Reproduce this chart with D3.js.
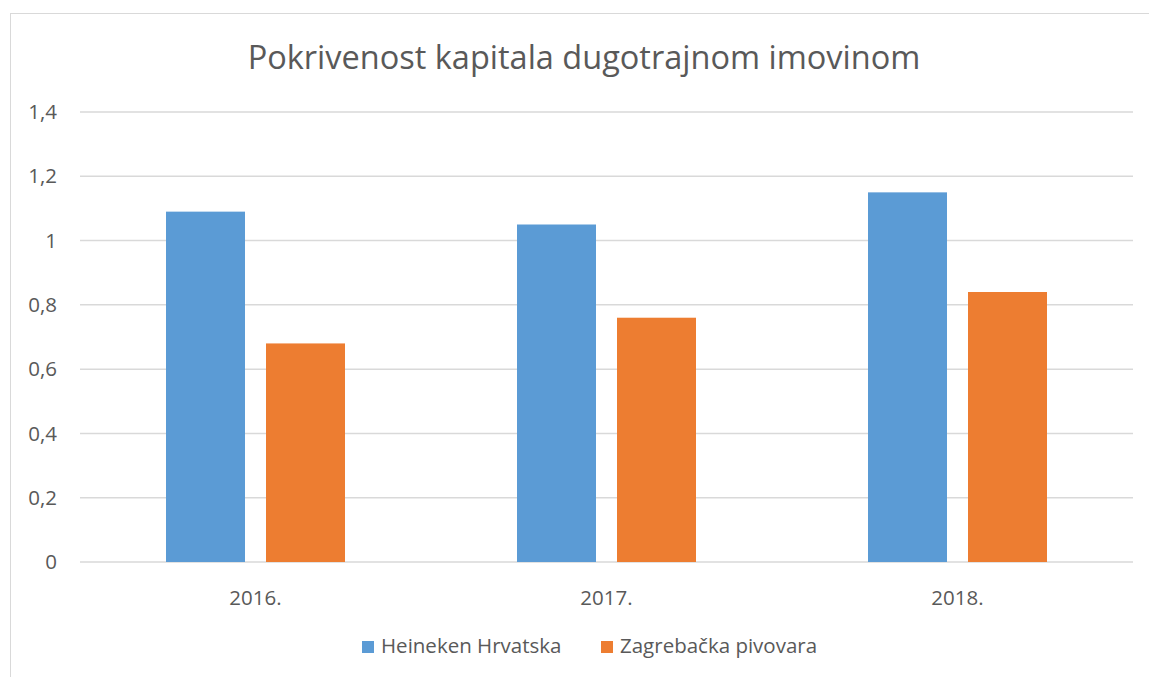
<!DOCTYPE html>
<html><head><meta charset="utf-8">
<script src="https://cdn.jsdelivr.net/npm/d3@7"></script>
<style>body{margin:0;background:#fff}svg{display:block}</style>
</head><body>
<svg id="c" width="1149" height="677"></svg>
<script>
const categories = ["2016.", "2017.", "2018."];
const seriesNames = ["Heineken Hrvatska", "Zagrebačka pivovara"];
const heineken = [1.09, 1.05, 1.15];
const zagrebacka = [0.68, 0.76, 0.84];
const yTicks = [0, 0.2, 0.4, 0.6, 0.8, 1, 1.2, 1.4];
const colors = ["#5b9bd5", "#ed7d31"];
const title = "Pokrivenost kapitala dugotrajnom imovinom";

(function () {
const svg = d3.select("#c");
const font = "'Open Sans', Lato, sans-serif";
const txt = "#595959";
const fs = 20.5;

svg.append("rect").attr("x", 10.5).attr("y", 13.5).attr("width", 1160).attr("height", 700)
  .attr("fill", "none").attr("stroke", "#d9d9d9").attr("stroke-width", 1);

const pl = 80, pr = 1133, pt = 112, pb = 562;
const x = d3.scaleBand().domain(categories).range([pl, pr]).padding(0);
const y = d3.scaleLinear().domain([0, 1.4]).range([pb, pt]);

svg.append("g").selectAll("line").data(yTicks).join("line")
  .attr("x1", pl).attr("x2", pr)
  .attr("y1", d => y(d)).attr("y2", d => y(d))
  .attr("stroke", "#d9d9d9").attr("stroke-width", 1.5);

const fmt = d => String(d).replace(".", ",");
svg.append("g").selectAll("text").data(yTicks).join("text")
  .attr("x", 57).attr("y", d => y(d)).attr("dy", "0.35em")
  .attr("text-anchor", "end").attr("font-family", font).attr("font-size", fs)
  .attr("fill", txt).text(fmt);

const bw = x.bandwidth() * 79 / 351;
const gap = x.bandwidth() * 21 / 351;
const data = [heineken, zagrebacka];
data.forEach((vals, si) => {
  svg.append("g").selectAll("rect").data(vals).join("rect")
    .attr("x", (d, i) => x(categories[i]) + x.bandwidth() / 2 - bw - gap / 2 + si * (bw + gap))
    .attr("y", d => y(d)).attr("width", bw).attr("height", d => y(0) - y(d))
    .attr("fill", colors[si]);
});

svg.append("g").selectAll("text").data(categories).join("text")
  .attr("x", d => x(d) + x.bandwidth() / 2).attr("y", 598).attr("dy", "0.35em")
  .attr("text-anchor", "middle").attr("font-family", font).attr("font-size", fs)
  .attr("fill", txt).text(d => d);

svg.append("text").attr("x", 584).attr("y", 58).attr("dy", "0.35em")
  .attr("text-anchor", "middle").attr("font-family", font).attr("font-size", 32.5)
  .attr("fill", txt).text(title);

const legX = [362, 601];
seriesNames.forEach((n, i) => {
  svg.append("rect").attr("x", legX[i]).attr("y", 641).attr("width", 12).attr("height", 12).attr("fill", colors[i]);
  svg.append("text").attr("x", legX[i] + 19).attr("y", 646).attr("dy", "0.35em")
    .attr("font-family", font).attr("font-size", fs).attr("fill", txt).text(n);
});
})();
</script>
</body></html>
